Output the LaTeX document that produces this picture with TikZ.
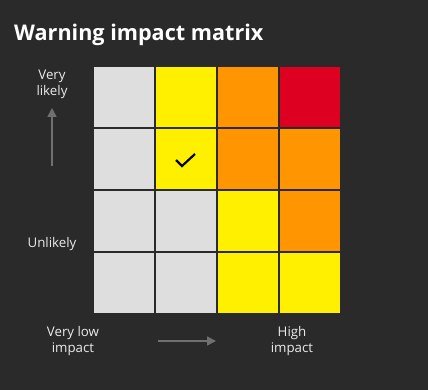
\documentclass[tikz,border=0pt]{standalone}
\usepackage{fontspec}
\setmainfont{Open Sans}
\usetikzlibrary{arrows.meta}
\definecolor{bgdark}{HTML}{2A2A2A}
\definecolor{cellgray}{HTML}{DEDEDE}
\definecolor{cellyellow}{HTML}{FFF000}
\definecolor{cellorange}{HTML}{FF9500}
\definecolor{cellred}{HTML}{DE0020}
\definecolor{axisgray}{HTML}{707070}
\tikzset{cell/.style={minimum size=60pt,inner sep=0pt},
  lbl/.style={text=white!92!black,align=center,font=\fontsize{13.3}{16}\selectfont},
  axis/.style={axisgray,line width=1.5pt,-{Triangle[length=9pt,width=9pt]}}}
\begin{document}
\begin{tikzpicture}[x=1pt,y=-1pt]
\fill[bgdark] (0,0) rectangle (428,390);
\node[anchor=base west,inner sep=0pt,text=white,font=\fontsize{21.6}{24}\selectfont\bfseries] (title) at (14,41) {Warning impact matrix};
% matrix cells, column/row/colour
\foreach \c/\r/\col in {0/0/cellgray,1/0/cellyellow,2/0/cellorange,3/0/cellred,
  0/1/cellgray,1/1/cellyellow,2/1/cellorange,3/1/cellorange,
  0/2/cellgray,1/2/cellgray,2/2/cellyellow,3/2/cellorange,
  0/3/cellgray,1/3/cellgray,2/3/cellyellow,3/3/cellyellow}
  \node[cell,fill=\col] (c\c\r) at (124+62*\c,97+62*\r) {};
\draw[black,line width=2.2pt] ([shift={(-10,1)}]c11.center)--([shift={(-4,7)}]c11.center)--([shift={(9,-5)}]c11.center);
% axes
\node[lbl] (vlikely) at (52,84) {Very\\likely};
\node[lbl] (unlikely) at (52,244) {Unlikely};
\coordinate (ytail) at (52,166);\coordinate (yhead) at (52,108);
\draw[axis] (ytail)--(yhead);
\node[lbl] (vlow) at (73,341) {Very low\\impact};
\node[lbl] (high) at (292,341) {High\\impact};
\coordinate (xtail) at (158,341);\coordinate (xhead) at (216,341);
\draw[axis] (xtail)--(xhead);
\end{tikzpicture}
\end{document}
